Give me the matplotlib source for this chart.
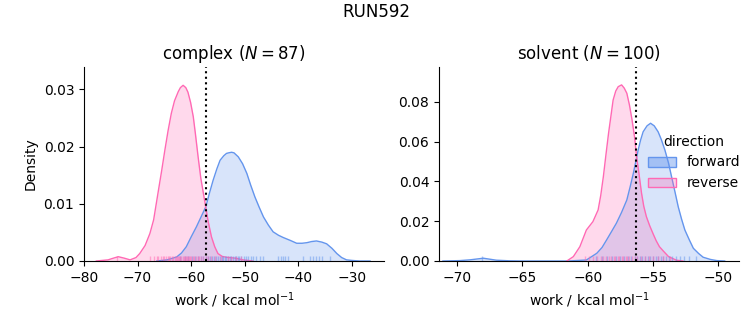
import numpy as np
import matplotlib
matplotlib.use("Agg")
import matplotlib.pyplot as plt
import seaborn as sns
from matplotlib.patches import Patch
from matplotlib.colors import to_rgba

# density curves (work in kcal/mol, density)
complex_fwd_x = [-66.4, -64.5, -62.7, -61.8, -60.9, -60.0, -59.0, -58.1, -57.25, -56.6, -55.9, -55.2,
                 -54.6, -53.9, -53.4, -53.0, -52.45, -52.0, -51.2, -50.4, -49.6, -48.9, -48.1, -47.3,
                 -46.5, -45.6, -44.7, -43.7, -42.8, -41.5, -40.3, -39.3, -38.4, -37.5, -36.6, -35.6,
                 -34.7, -33.7, -32.8, -31.9, -31.0, -30.0, -28.5, -26.6]
complex_fwd_y = [0.0, 0.0002, 0.0007, 0.0014, 0.0025, 0.0042, 0.0060, 0.0078, 0.0095, 0.0118, 0.0141,
                 0.0161, 0.0176, 0.0184, 0.0188, 0.0189, 0.0190, 0.0189, 0.0182, 0.0170, 0.0153, 0.0133,
                 0.0112, 0.0094, 0.0077, 0.0063, 0.0051, 0.0045, 0.0041, 0.0036, 0.0031, 0.0031, 0.0032,
                 0.0034, 0.0035, 0.0033, 0.0030, 0.0022, 0.0013, 0.0006, 0.0002, 0.0001, 0.0, 0.0]
complex_rev_x = [-77.7, -75.5, -74.5, -73.6, -72.5, -71.4, -70.3, -69.6, -68.6, -67.7, -67.0, -66.2,
                 -65.5, -64.9, -64.3, -63.7, -63.1, -62.4, -62.0, -61.5, -61.0, -60.6, -60.1, -59.6,
                 -59.2, -58.7, -58.2, -57.4, -56.8, -56.2, -55.6, -55.0, -54.2, -53.4, -51.8, -50.3,
                 -48.5]
complex_rev_y = [0.0, 0.0002, 0.0005, 0.00075, 0.0005, 0.0002, 0.0006, 0.0013, 0.0027, 0.0048, 0.0072,
                 0.0118, 0.0158, 0.0194, 0.0228, 0.0258, 0.0280, 0.0296, 0.0303, 0.0307, 0.0303, 0.0295,
                 0.0277, 0.0252, 0.0222, 0.0182, 0.0145, 0.0101, 0.0068, 0.0042, 0.0025, 0.0013, 0.0008,
                 0.00065, 0.0005, 0.0002, 0.0]

solvent_fwd_x = [-71.1, -69.8, -69.0, -68.0, -67.0, -66.0, -65.0, -61.5, -60.1, -59.3, -58.9, -58.55,
                 -58.2, -57.8, -57.4, -57.0, -56.75, -56.5, -56.13, -55.95, -55.75, -55.45, -55.18,
                 -54.9, -54.6, -54.35, -54.08, -53.8, -53.57, -53.3, -53.06, -52.8, -52.55, -52.2,
                 -51.9, -51.5, -51.15, -50.6, -50.1, -49.5]
solvent_fwd_y = [0.0, 0.0002, 0.0006, 0.0014, 0.0004, 0.0001, 0.0, 0.0, 0.0005, 0.0039, 0.0068, 0.0106,
                 0.0145, 0.0190, 0.0245, 0.0307, 0.0372, 0.0441, 0.0558, 0.0607, 0.0650, 0.0680, 0.0693,
                 0.0680, 0.0650, 0.0610, 0.0558, 0.0492, 0.0424, 0.0345, 0.0273, 0.0210, 0.0156, 0.0105,
                 0.0064, 0.0038, 0.0019, 0.0008, 0.0002, 0.0]
solvent_rev_x = [-61.6, -61.1, -60.6, -60.1, -59.6, -59.2, -59.0, -58.8, -58.6, -58.4, -58.05, -57.85,
                 -57.66, -57.4, -57.2, -57.0, -56.8, -56.6, -56.4, -56.25, -56.05, -55.87, -55.7, -55.5,
                 -55.25, -55.0, -54.75, -54.5, -54.2, -53.8, -53.2, -52.7]
solvent_rev_y = [0.0, 0.0022, 0.0072, 0.0156, 0.0198, 0.0257, 0.0330, 0.0424, 0.0535, 0.0643, 0.0810,
                 0.0855, 0.0877, 0.0886, 0.0870, 0.0844, 0.0785, 0.0710, 0.0620, 0.0525, 0.0430, 0.0340,
                 0.0275, 0.0223, 0.0178, 0.0139, 0.0102, 0.0072, 0.0050, 0.0022, 0.0004, 0.0]

# individual work values (rug)
complex_fwd_rug = [-62.0, -61.2, -60.5, -59.8, -59.3, -58.7, -58.2, -57.8, -57.3, -56.9, -56.5, -56.1,
                   -55.7, -55.3, -55.0, -54.6, -54.3, -54.0, -53.7, -53.4, -53.1, -52.8, -52.5, -52.2,
                   -51.9, -51.6, -51.3, -51.0, -50.6, -50.2, -49.8, -49.4, -48.9, -48.4, -47.9, -47.2,
                   -46.5, -43.8, -43.3, -42.9, -42.4, -41.9, -39.1, -37.8, -37.2, -36.6, -36.1, -35.6,
                   -34.1]
complex_rev_rug = [-73.8, -67.6, -66.9, -66.4, -66.1, -65.7, -65.3, -65.0, -64.7, -64.4, -64.1, -63.9,
                   -63.6, -63.3, -63.1, -62.8, -62.6, -62.4, -62.2, -62.0, -61.8, -61.6, -61.4, -61.2,
                   -61.0, -60.8, -60.6, -60.4, -60.2, -60.0, -59.7, -59.4, -59.1, -58.8, -58.5, -58.1,
                   -57.7, -57.3, -56.8, -56.2, -55.5, -54.4, -53.2, -52.5, -51.6, -50.6]
solvent_fwd_rug = [-68.1, -59.4, -58.9, -58.5, -58.1, -57.8, -57.5, -57.2, -56.9, -56.7, -56.4, -56.2,
                   -56.0, -55.8, -55.6, -55.4, -55.2, -55.0, -54.8, -54.6, -54.4, -54.2, -54.0, -53.8,
                   -53.5, -53.2, -52.9, -52.6, -52.2, -51.7]
solvent_rev_rug = [-60.2, -59.9, -59.6, -59.3, -59.0, -58.8, -58.6, -58.4, -58.2, -58.0, -57.9, -57.7,
                   -57.6, -57.4, -57.3, -57.1, -57.0, -56.8, -56.6, -56.4, -56.2, -55.9, -55.6, -55.3,
                   -55.0, -54.6, -54.2, -53.7]

complex_dG = -57.25
solvent_dG = -56.31

fwd_color = "cornflowerblue"
rev_color = "hotpink"

fig = plt.figure(figsize=(7.53, 3.25), dpi=100)
ax1 = fig.add_axes([84 / 753, 64 / 325, 300 / 753, 194 / 325])
ax2 = fig.add_axes([439 / 753, 64 / 325, 300 / 753, 194 / 325])

panels = [
    (ax1, "complex ($N = 87$)", complex_fwd_x, complex_fwd_y, complex_rev_x, complex_rev_y,
     complex_fwd_rug, complex_rev_rug, complex_dG),
    (ax2, "solvent ($N = 100$)", solvent_fwd_x, solvent_fwd_y, solvent_rev_x, solvent_rev_y,
     solvent_fwd_rug, solvent_rev_rug, solvent_dG),
]

for ax, title, fx, fy, rx, ry, frug, rrug, dG in panels:
    for x, y, c in [(fx, fy, fwd_color), (rx, ry, rev_color)]:
        ax.fill_between(x, y, color=c, alpha=0.25, lw=0)
        ax.plot(x, y, color=c, lw=1, solid_joinstyle="round")
    sns.rugplot(x=frug, ax=ax, color=fwd_color, height=0.025, alpha=0.5, lw=0.8)
    sns.rugplot(x=rrug, ax=ax, color=rev_color, height=0.025, alpha=0.5, lw=0.8)
    ax.axvline(dG, color="k", ls=":", lw=1.5)
    ax.set_title(title, fontsize=12)
    ax.set_xlabel("work / kcal mol$^{-1}$")
    ax.spines["top"].set_visible(False)
    ax.spines["right"].set_visible(False)

ax1.set_xlim(-80, -24)
ax1.set_ylim(0, 0.0339)
ax1.set_yticks([0, 0.01, 0.02, 0.03])
ax1.set_ylabel("Density")
ax2.set_xlim(-71.4, -48.4)
ax2.set_ylim(0, 0.0976)
ax2.set_xticks([-70, -65, -60, -55, -50])

handles = [Patch(facecolor=to_rgba(fwd_color, 0.45), edgecolor=fwd_color, label="forward"),
           Patch(facecolor=to_rgba(rev_color, 0.3), edgecolor=rev_color, label="reverse")]
fig.legend(handles=handles, title="direction", loc="center right", bbox_to_anchor=(1.0, 0.5),
           frameon=False, fontsize=10, title_fontsize=10)

fig.suptitle("RUN592", fontsize=12, y=0.99)
fig.savefig("out.png", dpi=100)
